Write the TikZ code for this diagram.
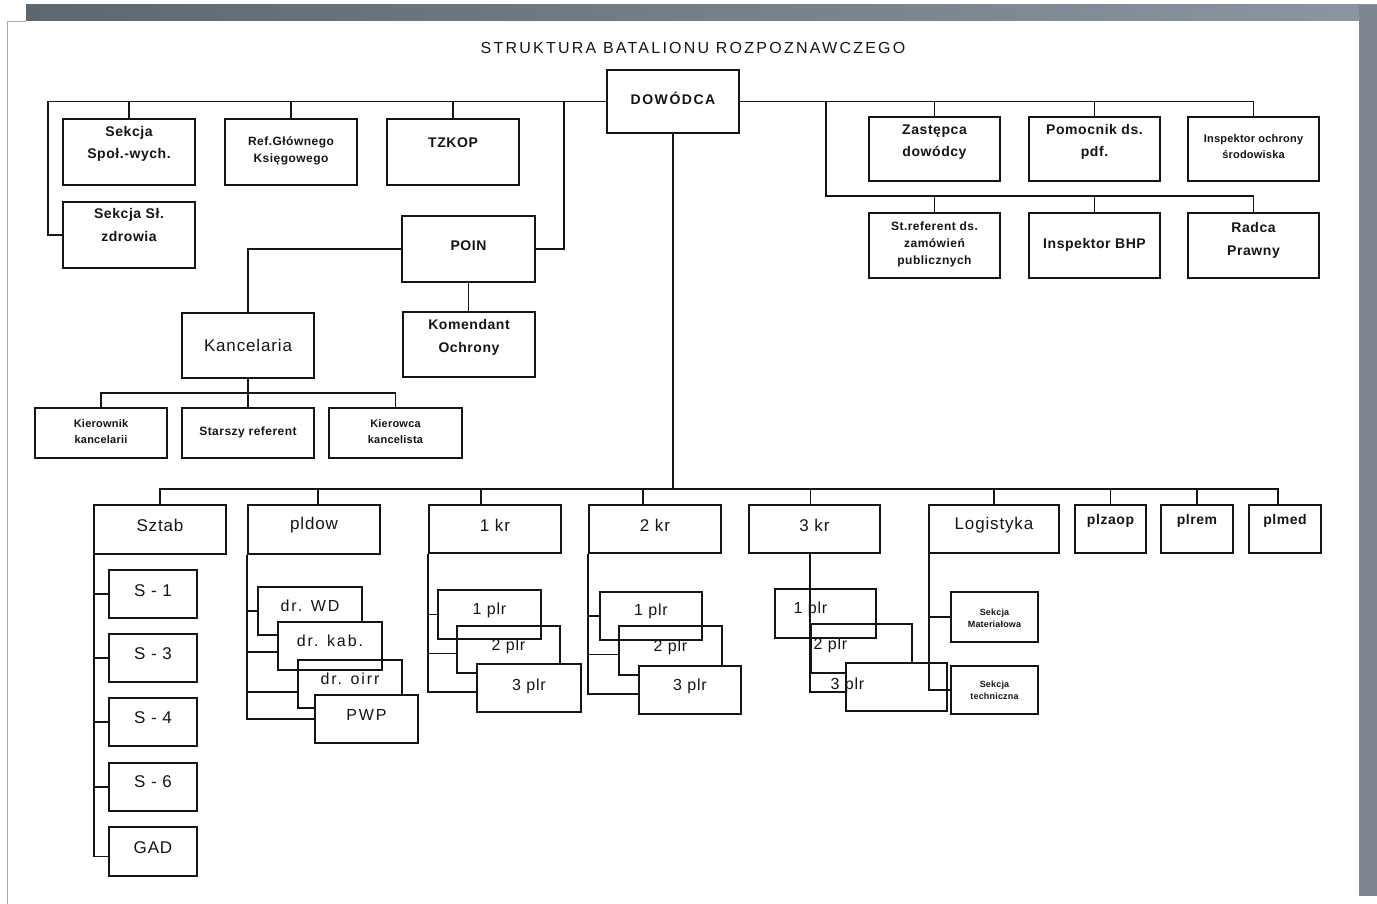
\documentclass[tikz,border=0pt]{standalone}
\usepackage{fontspec}
\setmainfont{Liberation Sans}
\newfontfamily\titlefont[LetterSpace=14]{Liberation Sans}
\newfontfamily\regfont[LetterSpace=5]{Liberation Sans}
\newfontfamily\widefont[LetterSpace=12]{Liberation Sans}
\newfontfamily\boldfont[LetterSpace=4]{Liberation Sans}
\newfontfamily\tightbold[LetterSpace=2]{Liberation Sans}
\newfontfamily\headbold[LetterSpace=11]{Liberation Sans}

\definecolor{ink}{HTML}{151515}
\definecolor{scandark}{HTML}{5E6670}
\definecolor{scanlight}{HTML}{8C95A1}

\tikzset{
  box/.style={draw=ink, line width=1.6pt, fill=white, inner sep=0pt},
  nofill/.style={fill=none},
  lbl/.style={inner sep=0pt, align=center, text=ink},
  big/.style={font=\regfont\fontsize{17}{20}\selectfont},
  plr/.style={font=\regfont\fontsize{16}{19}\selectfont},
  drs/.style={font=\widefont\fontsize{16}{19}\selectfont},
  dowf/.style={font=\headbold\bfseries\fontsize{14}{17}\selectfont},
  bl/.style={font=\boldfont\bfseries\fontsize{14}{22.5}\selectfont},
  bls/.style={font=\boldfont\bfseries\fontsize{12}{17}\selectfont},
  blk/.style={font=\tightbold\bfseries\fontsize{11}{16}\selectfont},
  blt/.style={font=\tightbold\bfseries\fontsize{9}{12}\selectfont},
  wire/.style={draw=ink, line width=1.8pt},
}

% \orgbox{style}{name}{x1}{y1}{x2}{y2}{text dx}{text dy}{text}
\newcommand\orgbox[9]{%
  \pgfmathsetmacro\obX{(#3+#5)/2}%
  \pgfmathsetmacro\obY{(#4+#6)/2}%
  \pgfmathsetmacro\obW{#5-#3}%
  \pgfmathsetmacro\obH{#6-#4}%
  \pgfmathsetmacro\obTX{\obX+(#7)}%
  \pgfmathsetmacro\obTY{\obY+(#8)}%
  \node[box, #1, minimum width=\obW pt, minimum height=\obH pt] (#2) at (\obX,\obY) {};%
  \node[lbl, #1, draw=none, fill=none] (#2-t) at (\obTX,\obTY) {#9};%
}

\begin{document}
\begin{tikzpicture}[x=1pt, y=-1pt]
\useasboundingbox (0,0) rectangle (1377,904);

% paper and scanner edges
\fill[white] (0,0) rectangle (1377,904);
\shade[left color=scandark, right color=scanlight] (26,5) rectangle (1377,21);
\fill[scanlight!90!black] (1359,5) rectangle (1377,896);
\draw[gray!70, line width=0.8pt] (7,904) -- (7,21) -- (26,21);

\node[font=\titlefont\fontsize{16}{19}\selectfont, text=ink] (title) at (693,48) {STRUKTURA BATALIONU ROZPOZNAWCZEGO};

% command level
\orgbox{dowf}{dow}{607}{70}{739}{133}{0}{-3}{DOWÓDCA}

\orgbox{bl}{sek1}{63}{119}{195}{185}{0}{-8}{Sekcja\\Społ.-wych.}
\orgbox{bls}{ref}{225}{119}{357}{185}{0}{-1}{Ref.Głównego\\Księgowego}
\orgbox{bl}{tzk}{387}{119}{519}{185}{0}{-9}{TZKOP}
\orgbox{bl}{sek2}{63}{202}{195}{268}{0}{-10}{Sekcja Sł.\\zdrowia}
\orgbox{bl}{poin}{402}{216}{535}{282}{0}{-3}{POIN}
\orgbox{big}{kanc}{182}{313}{314}{378}{0}{0}{Kancelaria}
\orgbox{bl}{kom}{403}{312}{535}{377}{0}{-7}{Komendant\\Ochrony}
\orgbox{blk}{kier}{35}{408}{167}{458}{0}{-1}{Kierownik\\kancelarii}
\orgbox{bls}{star}{182}{408}{314}{458}{0}{-1}{Starszy referent}
\orgbox{blk}{kc}{329}{408}{462}{458}{0}{-1}{Kierowca\\kancelista}

\orgbox{bl}{zas}{869}{117}{1000}{181}{0}{-7}{Zastępca\\dowódcy}
\orgbox{bl}{pom}{1029}{117}{1160}{181}{0}{-7}{Pomocnik ds.\\pdf.}
\orgbox{blk}{ios}{1188}{117}{1319}{181}{0}{-2}{Inspektor ochrony\\środowiska}
\orgbox{bls}{zam}{869}{213}{1000}{278}{0}{-1}{St.referent ds.\\zamówień\\publicznych}
\orgbox{bl}{bhp}{1029}{213}{1160}{278}{0}{-1}{Inspektor BHP}
\orgbox{bl}{rad}{1188}{213}{1319}{278}{0}{-5}{Radca\\Prawny}

% subunits
\orgbox{big}{sztab}{94}{505}{226}{554}{0}{-4}{Sztab}
\orgbox{big}{pldow}{248}{505}{380}{554}{0}{-4}{pldow}
\orgbox{big}{kr1}{429}{505}{561}{553}{0}{-4}{1 kr}
\orgbox{big}{kr2}{589}{505}{721}{553}{0}{-4}{2 kr}
\orgbox{big}{kr3}{749}{505}{880}{553}{0}{-4}{3 kr}
\orgbox{big}{logi}{929}{505}{1059}{553}{0}{-4}{Logistyka}
\orgbox{bl}{pzaop}{1075}{505}{1146}{553}{0}{-8}{plzaop}
\orgbox{bl}{prem}{1161}{505}{1233}{553}{0}{-8}{plrem}
\orgbox{bl}{pmed}{1249}{505}{1321}{553}{0}{-8}{plmed}

% staff sections
\orgbox{big}{s1}{109}{570}{197}{618}{0}{-3}{S - 1}
\orgbox{big}{s3}{109}{634}{197}{682}{0}{-4}{S - 3}
\orgbox{big}{s4}{109}{698}{197}{746}{0}{-4}{S - 4}
\orgbox{big}{s6}{109}{763}{197}{811}{0}{-5}{S - 6}
\orgbox{big}{gad}{109}{827}{197}{876}{0}{-4}{GAD}

% command platoon squads
\orgbox{drs}{wd}{258}{587}{362}{635}{0}{-5}{dr. WD}
\orgbox{drs}{kab}{278}{622}{382}{670}{0}{-5}{dr. kab.}
\orgbox{drs,nofill}{oirr}{298}{660}{402}{708}{0}{-5}{dr. oirr}
\orgbox{drs}{pwp}{315}{695}{418}{743}{0}{-4}{PWP}

% company platoons
\orgbox{plr}{p11}{438}{590}{541}{639}{0}{-4}{1 plr}
\orgbox{plr,nofill}{p12}{457}{626}{560}{673}{0}{-3}{2 plr}
\orgbox{plr}{p13}{477}{664}{581}{712}{0}{-2}{3 plr}

\orgbox{plr}{p21}{600}{592}{702}{640}{0}{-5}{1 plr}
\orgbox{plr,nofill}{p22}{619}{626}{722}{675}{0}{-3}{2 plr}
\orgbox{plr}{p23}{639}{666}{741}{714}{0}{-4}{3 plr}

\orgbox{plr}{p31}{775}{589}{876}{638}{-15}{-4}{1 plr}
\orgbox{plr,nofill}{p32}{811}{624}{912}{673}{-31}{-3}{2 plr}
\orgbox{plr}{p33}{846}{663}{947}{711}{-49}{-2}{3 plr}

% logistics sections
\orgbox{blt}{smat}{951}{592}{1038}{642}{0}{1}{Sekcja\\Materiałowa}
\orgbox{blt}{stech}{951}{666}{1038}{714}{0}{0}{Sekcja\\techniczna}

% ---- connectors ----
\coordinate (busL) at (48,101.5);
\coordinate (busR) at (564,101.5);
\draw[wire] (dow.west) -- (busL) |- (sek2.west);
\draw[wire] (sek1.north) -- (sek1.north |- busL);
\draw[wire] (ref.north) -- (ref.north |- busL);
\draw[wire] (tzk.north) -- (tzk.north |- busL);
\draw[wire] (busR) |- (poin.east);
\draw[wire] (poin.west) -| (kanc.north);
\draw[wire] (poin.south) -- (poin.south |- kom.north);
\coordinate (busK) at (248,393);
\draw[wire] (kanc.south) -- (kanc.south |- busK);
\draw[wire] (kier.north) |- (busK) -| (kc.north);
\draw[wire] (star.north) -- (star.north |- busK);

\coordinate (busV) at (826,101.5);
\coordinate (busV2) at (826,196);
\draw[wire] (dow.east) -| (ios.north);
\draw[wire] (zas.north) -- (zas.north |- dow.east);
\draw[wire] (pom.north) -- (pom.north |- dow.east);
\draw[wire] (busV) -- (busV2) -| (rad.north);
\draw[wire] (zam.north) -- (zam.north |- busV2);
\draw[wire] (bhp.north) -- (bhp.north |- busV2);

\coordinate (busB) at (673,489);
\draw[wire] (dow.south) -- (dow.south |- busB);
\draw[wire] (sztab.north) |- (busB) -| ([xshift=-7pt]pmed.north);
\draw[wire] ([xshift=4pt]pldow.north) -- ([xshift=4pt]pldow.north |- busB);
\draw[wire] ([xshift=-14pt]kr1.north) -- ([xshift=-14pt]kr1.north |- busB);
\draw[wire] ([xshift=-12pt]kr2.north) -- ([xshift=-12pt]kr2.north |- busB);
\draw[wire] ([xshift=-4pt]kr3.north) -- ([xshift=-4pt]kr3.north |- busB);
\draw[wire] (logi.north) -- (logi.north |- busB);
\draw[wire] (pzaop.north) -- (pzaop.north |- busB);
\draw[wire] (prem.north) -- (prem.north |- busB);

\coordinate (sztabL) at ([xshift=1pt]sztab.south west);
\draw[wire] (sztabL) |- ([yshift=-5pt]gad.west);
\foreach \s in {s1,s3,s4,s6}
  \draw[wire] (\s.west) -- (\s.west -| sztabL);

\draw[wire] (pldow.south west) |- (pwp.west);
\draw[wire] (wd.west) -- (wd.west -| pldow.south west);
\draw[wire] ([yshift=-6pt]kab.west) -- ([yshift=-6pt]kab.west -| pldow.south west);
\draw[wire] ([yshift=-8pt]oirr.west) -- ([yshift=-8pt]oirr.west -| pldow.south west);

\draw[wire] (kr1.south west) |- ([yshift=-4pt]p13.west);
\draw[wire] (p11.west) -- (p11.west -| kr1.south west);
\draw[wire] ([yshift=-4pt]p12.west) -- ([yshift=-4pt]p12.west -| kr1.south west);

\draw[wire] (kr2.south west) |- ([yshift=-4pt]p23.west);
\draw[wire] (p21.west) -- (p21.west -| kr2.south west);
\draw[wire] ([yshift=-4pt]p22.west) -- ([yshift=-4pt]p22.west -| kr2.south west);

\draw[wire] (p32.west |- kr3.south) |- ([yshift=-5pt]p33.west);

\coordinate (logiL) at ([xshift=1pt]logi.south west);
\draw[wire] (logiL) |- (stech.west);
\draw[wire] (smat.west) -- (smat.west -| logiL);
\end{tikzpicture}
\end{document}
